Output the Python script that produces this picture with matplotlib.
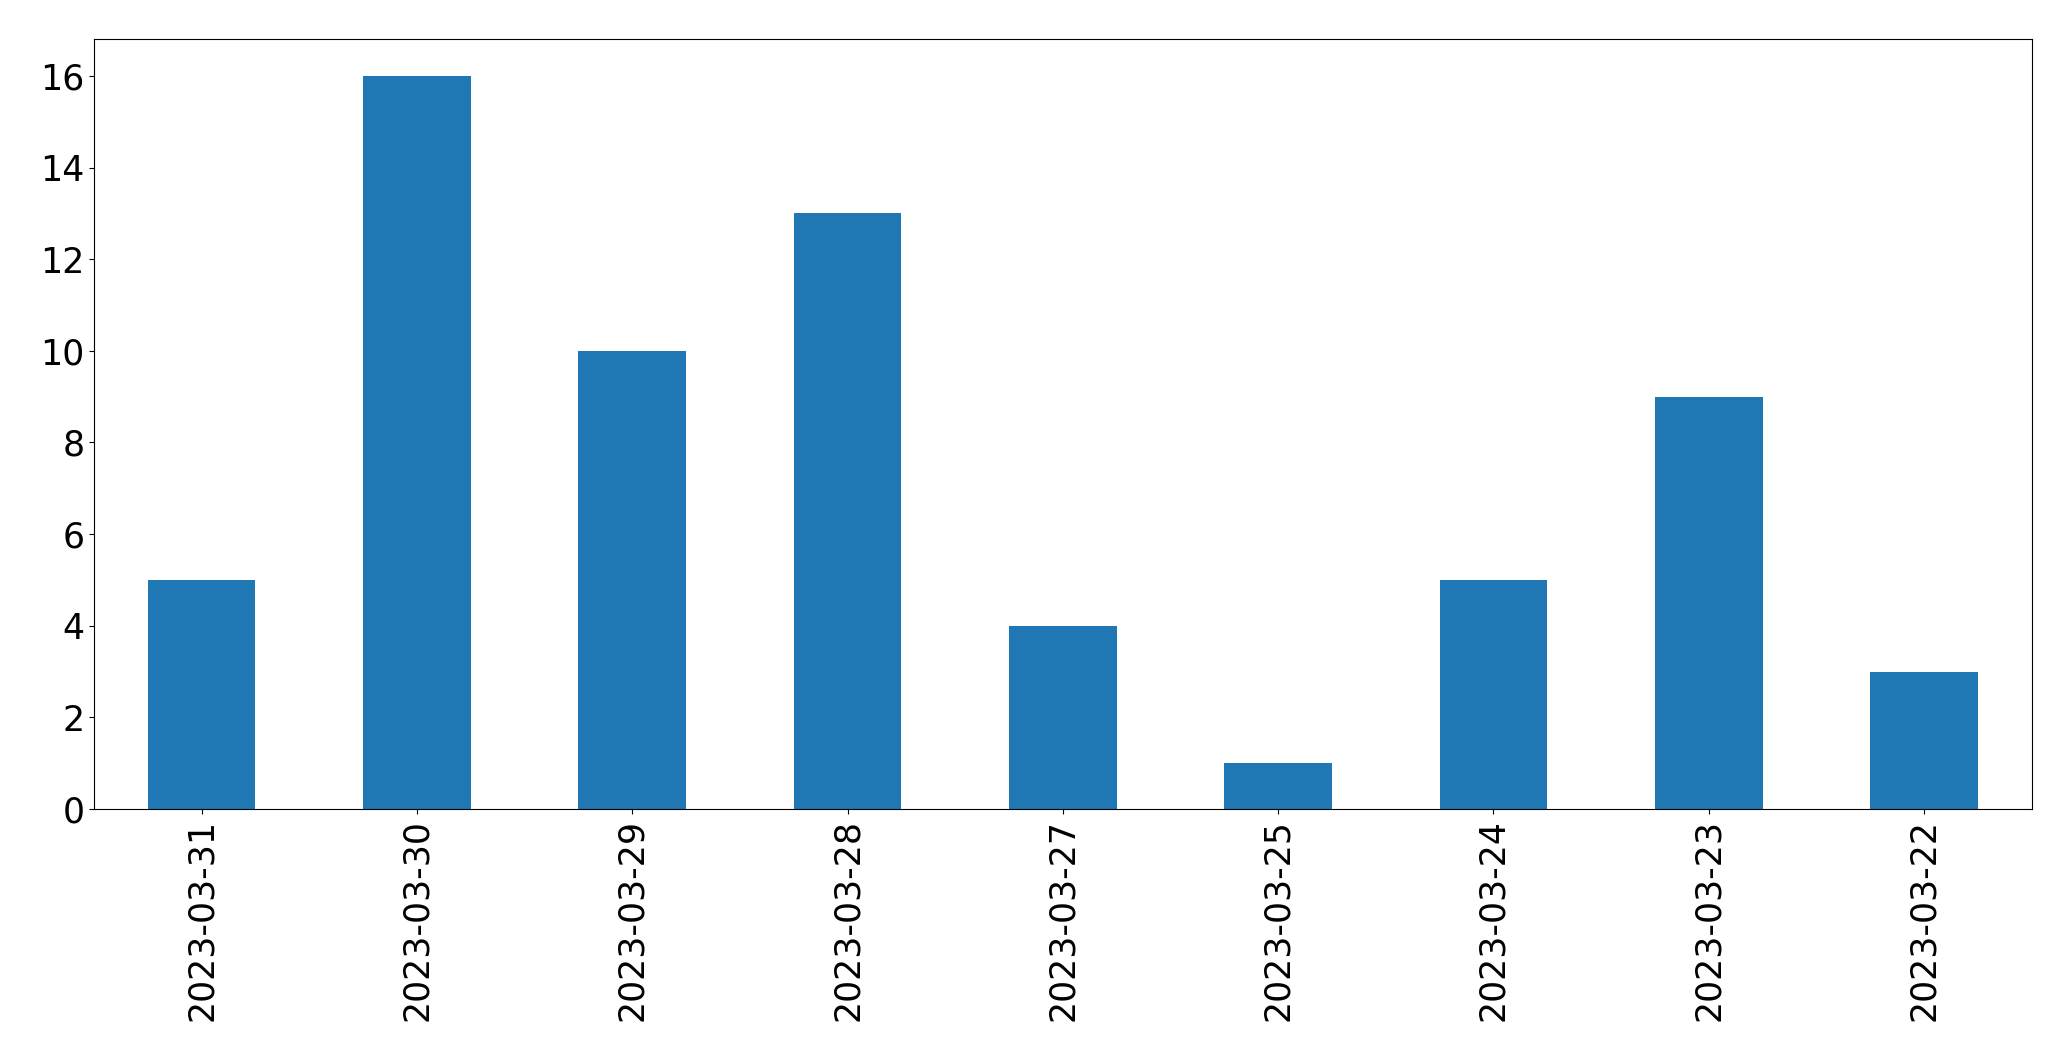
import matplotlib
matplotlib.use("Agg")
import matplotlib.pyplot as plt
import pandas as pd

dates = ["2023-03-31", "2023-03-30", "2023-03-29", "2023-03-28", "2023-03-27",
         "2023-03-25", "2023-03-24", "2023-03-23", "2023-03-22"]
counts = [5, 16, 10, 13, 4, 1, 5, 9, 3]

s = pd.Series(counts, index=dates)

fig = plt.figure(figsize=(20.71, 10.61), dpi=100)
ax = fig.add_axes([0.0454, 0.2375, 0.981 - 0.0454, 0.963 - 0.2375])
s.plot(kind="bar", ax=ax, color="#1f77b4")
ax.tick_params(axis="both", labelsize=25)
ax.set_xlabel("")

fig.savefig("out.png", dpi=100)
